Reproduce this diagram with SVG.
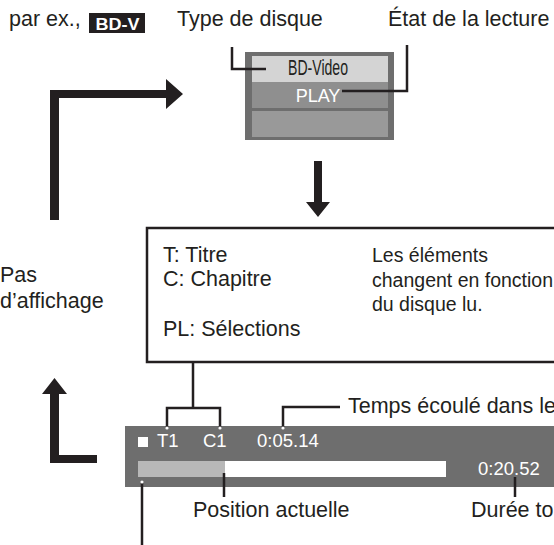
<svg xmlns="http://www.w3.org/2000/svg" width="554" height="545" viewBox="0 0 554 545">
<style>
.t{font-family:"Liberation Sans",Arial,sans-serif;font-size:21.5px;fill:#231f20}
.s{font-size:19.5px}
.w{font-family:"Liberation Sans",Arial,sans-serif;fill:#fff}
.ln{stroke:#231f20;stroke-width:2.5;fill:none}
.ar{fill:#231f20}
.dot{fill:#fff}
</style>
<rect width="554" height="545" fill="#fff"/>

<g id="labels-top">
<text class="t" x="9" y="26">par ex.,</text>
<rect x="89" y="13" width="56" height="20" fill="#231f20"/>
<text class="w" x="117.5" y="30" font-size="16" font-weight="bold" text-anchor="middle" textLength="44" lengthAdjust="spacingAndGlyphs">BD-V</text>
<text class="t" x="177" y="26">Type de disque</text>
<text class="t" x="388" y="26">État de la lecture</text>
</g>

<g id="panel">
<rect x="245" y="52" width="149" height="88" fill="#6e6e6e"/>
<rect x="252" y="56" width="136" height="26" fill="#d4d4d4"/>
<rect x="252" y="82" width="136" height="26" fill="#8f8f8f"/>
<rect x="252" y="111" width="136" height="26" fill="#999"/>
<text class="t" x="318" y="75" font-size="16" text-anchor="middle" textLength="60" lengthAdjust="spacingAndGlyphs">BD-Video</text>
<text class="w" x="318" y="102" font-size="18" text-anchor="middle">PLAY</text>
</g>

<g id="infobox">
<rect x="147" y="228" width="420" height="134" fill="#fff" stroke="#231f20" stroke-width="2.5"/>
<text class="t" x="163" y="262">T: Titre</text>
<text class="t" x="163" y="286">C: Chapitre</text>
<text class="t" x="163" y="336">PL: Sélections</text>
<text class="t s" x="372" y="262">Les éléments</text>
<text class="t s" x="372" y="287">changent en fonction</text>
<text class="t s" x="372" y="311">du disque lu.</text>
</g>

<g id="noDisplay">
<text class="t" x="0" y="282">Pas</text>
<text class="t" x="0" y="308">d’affichage</text>
</g>

<g id="bar">
<rect x="125" y="426" width="440" height="61" fill="#6e6e6e"/>
<rect x="138" y="437" width="10" height="10" fill="#fff"/>
<text class="w" x="157" y="447" font-size="18.5">T1</text>
<text class="w" x="203" y="447" font-size="18.5">C1</text>
<text class="w" x="257" y="447" font-size="18.5">0:05.14</text>
<rect x="138" y="461" width="87" height="16" fill="#b8b8b8"/>
<rect x="225" y="461" width="221" height="16" fill="#fff"/>
<text class="w" x="478" y="475" font-size="18.5">0:20.52</text>
</g>

<g id="labels-bottom">
<text class="t" x="348" y="413">Temps écoulé dans le</text>
<text class="t" x="193" y="517">Position actuelle</text>
<text class="t" x="471" y="517">Durée to</text>
</g>

<g id="connectors">
<path class="ar" d="M50,90 H166 V79 L183,94 L166,109 V98 H59 V220 H50 Z"/>
<path class="ar" d="M314,161 H322 V202 H330 L318,217 L306,202 H314 Z"/>
<path class="ar" d="M50,463 V394 H42 L54.5,378 L67,394 H59 V455 H97 V463 Z"/>
<path class="ln" d="M232,47 V69 H266"/>
<path class="ln" d="M407,45 V91 H342"/>
<path class="ln" d="M193,362 V408 M167,428 V408 H220 V428"/>
<path class="ln" d="M283,428 V407 H340"/>
<path class="ln" d="M224,473 V497"/>
<path class="ln" d="M515,477 V497"/>
<path class="ln" d="M142,482 V545"/>
<circle class="dot" cx="167" cy="428" r="1.6"/>
<circle class="dot" cx="220" cy="428" r="1.6"/>
<circle class="dot" cx="283" cy="428" r="1.6"/>
<circle class="dot" cx="142" cy="482" r="1.6"/>
</g>
</svg>
